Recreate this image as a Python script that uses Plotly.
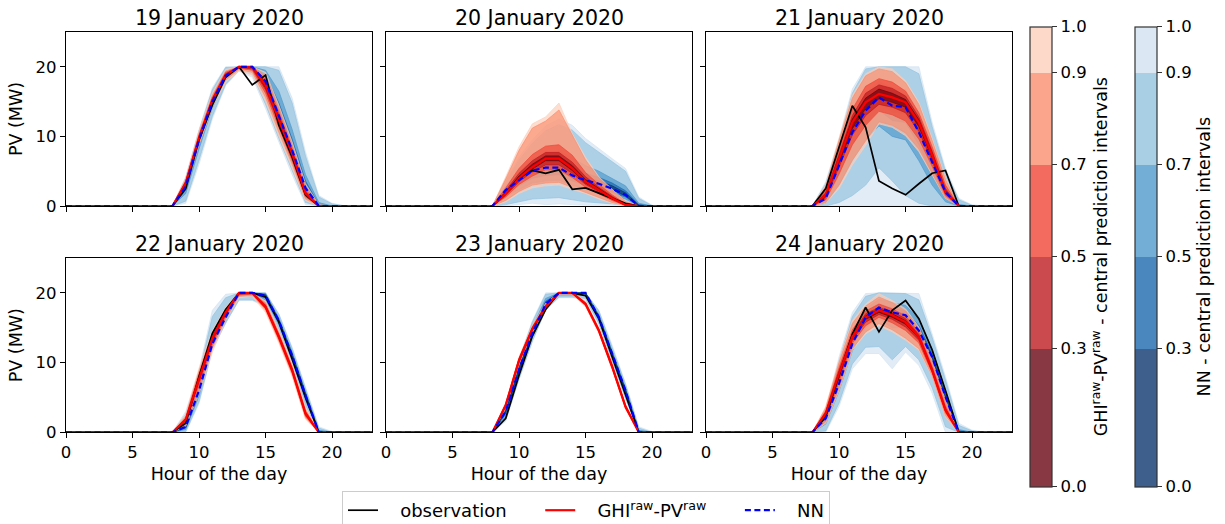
import plotly.graph_objects as go

# ---------------- data ----------------
HOURS = list(range(24))
FIRST_HOUR = 8          # listed values start at 08:00 and run to 20:00
LEVELS = [1.0, 0.8, 0.6, 0.4, 0.2]   # central prediction interval levels (outer -> inner)
TITLES = ["19 January 2020", "20 January 2020", "21 January 2020",
          "22 January 2020", "23 January 2020", "24 January 2020"]
CB_TICKS = [0.0, 0.3, 0.5, 0.7, 0.9, 1.0]
SERIES_NAMES = ["observation", "GHI<sup>raw</sup>-PV<sup>raw</sup>", "NN"]

# ---- 19 January ----
obs_19 = [0, 2.5, 9.5, 14.5, 18.5, 20, 17.4, 18.8, 11.6, 7.0, 1.6, 0, 0]
ghi_19 = [0, 3.3, 9.8, 15.2, 18.8, 20, 20, 17.3, 12.5, 7.5, 1.8, 0, 0]
nn_19 = [0, 2.8, 9.5, 15.0, 18.7, 20, 20, 17.9, 13.0, 8.0, 2.6, 0, 0]
ghi_hi_19 = [[0, 4.0, 10.8, 16.2, 19.6, 20, 20, 19.2, 14.5, 9.2, 3.2, 0.2, 0],
             [0, 3.8, 10.5, 15.9, 19.4, 20, 20, 18.7, 14.0, 8.7, 2.8, 0.1, 0],
             [0, 3.6, 10.2, 15.6, 19.2, 20, 20, 18.2, 13.5, 8.3, 2.4, 0, 0],
             [0, 3.5, 10.0, 15.4, 19.0, 20, 20, 17.8, 13.1, 8.0, 2.1, 0, 0],
             [0, 3.4, 9.9, 15.3, 18.9, 20, 20, 17.5, 12.8, 7.7, 1.9, 0, 0]]
ghi_lo_19 = [[0, 2.4, 8.8, 14.2, 17.8, 19.4, 18.8, 15.0, 10.0, 5.5, 0.8, 0, 0],
             [0, 2.6, 9.0, 14.5, 18.1, 19.6, 19.2, 15.6, 10.6, 6.0, 1.0, 0, 0],
             [0, 2.8, 9.3, 14.7, 18.4, 19.8, 19.5, 16.2, 11.3, 6.5, 1.3, 0, 0],
             [0, 3.0, 9.5, 14.9, 18.6, 19.9, 19.7, 16.7, 11.8, 7.0, 1.5, 0, 0],
             [0, 3.2, 9.7, 15.1, 18.7, 20, 19.9, 17.0, 12.2, 7.3, 1.7, 0, 0]]
nn_hi_19 = [[0, 4.2, 11.0, 17.0, 20, 20, 20, 20, 20, 15.5, 7.8, 1.5, 0.4],
            [0, 4.0, 10.8, 16.7, 19.9, 20, 20, 20, 19.5, 14.8, 7.2, 1.3, 0.3],
            [0, 3.4, 10.1, 15.8, 19.3, 20, 20, 19.5, 16.5, 11.0, 4.5, 0.5, 0],
            [0, 3.1, 9.8, 15.4, 19.0, 20, 20, 18.9, 14.8, 9.6, 3.6, 0.2, 0],
            [0, 2.9, 9.6, 15.2, 18.8, 20, 20, 18.4, 13.8, 8.7, 3.0, 0.1, 0]]
nn_lo_19 = [[0, 0.4, 6.0, 12.5, 17.3, 19.4, 18.5, 14.0, 9.2, 4.5, 0.2, 0, 0],
            [0, 0.7, 6.6, 12.9, 17.5, 19.5, 18.9, 14.6, 9.7, 5.0, 0.5, 0, 0],
            [0, 1.8, 8.2, 14.1, 18.2, 19.8, 19.6, 16.4, 11.3, 6.4, 1.4, 0, 0],
            [0, 2.3, 8.8, 14.6, 18.5, 19.9, 19.8, 17.0, 12.0, 7.1, 1.9, 0, 0],
            [0, 2.6, 9.2, 14.8, 18.6, 20, 19.9, 17.5, 12.6, 7.6, 2.3, 0, 0]]

# ---- 20 January ----
obs_20 = [0, 1.8, 4.1, 5.1, 4.7, 5.2, 2.4, 2.6, 1.8, 1.1, 0.4, 0, 0]
ghi_20 = [0, 1.8, 4.0, 5.6, 6.8, 6.8, 5.4, 3.5, 2.3, 1.1, 0.15, 0, 0]
nn_20 = [0, 2.3, 3.7, 5.1, 5.5, 5.5, 4.4, 3.7, 3.2, 2.5, 1.6, 0, 0]
ghi_hi_20 = [[0, 4.2, 8.5, 11.8, 12.8, 14.8, 10.4, 7.0, 4.2, 2.4, 0.7, 0, 0],
             [0, 3.9, 8.0, 11.2, 12.2, 13.8, 10.1, 6.6, 4.0, 2.3, 0.65, 0, 0],
             [0, 2.6, 5.4, 7.4, 8.6, 8.8, 7.3, 4.8, 3.1, 1.6, 0.35, 0, 0],
             [0, 2.2, 4.7, 6.5, 7.7, 7.7, 6.3, 4.2, 2.7, 1.4, 0.25, 0, 0],
             [0, 2.0, 4.3, 6.0, 7.2, 7.2, 5.8, 3.8, 2.5, 1.25, 0.2, 0, 0]]
ghi_lo_20 = [[0, 0.6, 1.8, 2.6, 2.9, 3.0, 2.4, 1.8, 1.0, 0.4, 0.05, 0, 0],
             [0, 0.8, 2.1, 3.0, 3.3, 3.4, 2.7, 2.0, 1.2, 0.5, 0.07, 0, 0],
             [0, 1.3, 3.1, 4.3, 5.2, 5.2, 4.1, 2.7, 1.8, 0.8, 0.1, 0, 0],
             [0, 1.5, 3.5, 4.9, 5.9, 5.9, 4.7, 3.1, 2.0, 0.95, 0.12, 0, 0],
             [0, 1.7, 3.8, 5.3, 6.5, 6.5, 5.1, 3.3, 2.2, 1.05, 0.14, 0, 0]]
nn_hi_20 = [[0, 3.7, 7.0, 9.5, 11.5, 12.5, 11.6, 9.7, 8.2, 6.8, 5.4, 1.3, 0.1],
            [0, 3.5, 6.6, 9.0, 10.8, 11.7, 10.9, 9.1, 7.7, 6.4, 5.0, 1.1, 0.05],
            [0, 2.9, 4.9, 6.8, 7.6, 7.9, 6.9, 5.8, 5.0, 4.0, 2.9, 0.4, 0],
            [0, 2.6, 4.3, 5.9, 6.6, 6.7, 5.6, 4.7, 4.1, 3.3, 2.2, 0.2, 0],
            [0, 2.45, 4.0, 5.5, 6.0, 6.1, 5.0, 4.2, 3.6, 2.9, 1.9, 0.1, 0]]
nn_lo_20 = [[0, 0, 0.2, 0.4, 0.2, 0.3, 0.2, 0.1, 0, 0, 0, 0, 0],
            [0, 0.2, 0.6, 1.0, 1.1, 1.2, 0.9, 0.6, 0.4, 0.3, 0.1, 0, 0],
            [0, 1.4, 2.3, 3.3, 3.6, 3.7, 3.0, 2.5, 2.1, 1.6, 1.0, 0, 0],
            [0, 1.8, 2.9, 4.0, 4.4, 4.5, 3.6, 3.0, 2.6, 2.0, 1.3, 0, 0],
            [0, 2.05, 3.3, 4.6, 5.0, 5.0, 4.0, 3.4, 2.9, 2.3, 1.45, 0, 0]]

# ---- 21 January ----
obs_21 = [0, 2.5, 8.5, 14.4, 11.3, 3.6, 2.5, 1.6, 3.2, 4.7, 5.1, 0, 0]
ghi_21 = [0, 1.6, 6.8, 12.0, 14.9, 16.1, 15.6, 14.9, 12.0, 7.3, 2.0, 0, 0]
nn_21 = [0, 1.1, 5.9, 10.6, 13.7, 15.6, 14.4, 14.2, 10.6, 6.3, 2.0, 0, 0]
ghi_hi_21 = [[0, 3.0, 9.7, 15.9, 19.0, 20, 19.7, 18.0, 14.9, 9.7, 4.0, 0, 0],
             [0, 2.8, 9.4, 15.5, 18.7, 19.7, 19.3, 17.7, 14.6, 9.4, 3.8, 0, 0],
             [0, 2.2, 8.2, 13.9, 17.2, 18.3, 17.8, 16.5, 13.4, 8.5, 3.0, 0, 0],
             [0, 1.9, 7.6, 13.0, 16.2, 17.4, 16.9, 15.8, 12.8, 7.9, 2.5, 0, 0],
             [0, 1.7, 7.2, 12.5, 15.5, 16.8, 16.2, 15.3, 12.4, 7.6, 2.2, 0, 0]]
ghi_lo_21 = [[0, 0.4, 2.5, 5.9, 8.7, 11.8, 11.3, 10.1, 7.8, 4.4, 1.1, 0, 0],
             [0, 0.5, 3.0, 6.6, 9.3, 12.1, 11.6, 10.5, 8.2, 4.7, 1.2, 0, 0],
             [0, 0.9, 4.6, 8.8, 11.6, 13.6, 13.1, 12.2, 9.6, 5.7, 1.5, 0, 0],
             [0, 1.2, 5.6, 10.2, 13.0, 14.6, 14.2, 13.4, 10.7, 6.4, 1.7, 0, 0],
             [0, 1.4, 6.2, 11.1, 14.0, 15.4, 14.9, 14.2, 11.4, 6.9, 1.9, 0, 0]]
nn_hi_21 = [[0, 3.5, 9.7, 16.8, 20, 20, 20, 20, 20, 12.0, 5.4, 1.1, 0.15],
            [0, 3.2, 9.3, 16.2, 19.7, 20, 20, 20, 19.0, 11.4, 5.0, 0.9, 0.1],
            [0, 2.0, 7.4, 12.8, 16.2, 17.9, 17.0, 16.7, 13.2, 8.2, 3.1, 0.2, 0],
            [0, 1.5, 6.6, 11.6, 14.9, 16.7, 15.6, 15.3, 11.8, 7.2, 2.5, 0.1, 0],
            [0, 1.2, 6.2, 11.0, 14.2, 16.1, 14.9, 14.7, 11.1, 6.7, 2.2, 0, 0]]
nn_lo_21 = [[0, 0, 0, 0, 0, 0, 0, 0, 0, 0, 0, 0, 0],
            [0, 0, 0.5, 1.5, 3.0, 5.5, 3.6, 1.5, 0.4, 0, 0, 0, 0],
            [0, 0.4, 3.0, 6.5, 9.5, 11.5, 10.0, 9.5, 6.5, 3.0, 0.6, 0, 0],
            [0, 0.7, 4.5, 8.8, 11.8, 13.8, 12.3, 12.0, 8.8, 4.7, 1.3, 0, 0],
            [0, 0.9, 5.3, 9.8, 12.9, 14.8, 13.5, 13.2, 9.8, 5.6, 1.7, 0, 0]]

# ---- 22 January ----
obs_22 = [0, 1.3, 8.0, 14.2, 17.6, 20, 20, 19.4, 15.8, 10.5, 5.0, 0, 0]
ghi_22 = [0, 1.8, 7.8, 13.5, 17.2, 20, 20, 18.0, 13.7, 8.9, 2.7, 0, 0]
nn_22 = [0, 0.8, 6.0, 12.7, 16.5, 20, 20, 19.6, 16.0, 11.0, 5.3, 0, 0]
ghi_hi_22 = [[0, 2.6, 9.2, 14.6, 17.9, 20, 20, 18.8, 14.6, 9.8, 3.6, 0.1, 0],
             [0, 2.3, 8.8, 14.3, 17.7, 20, 20, 18.6, 14.3, 9.5, 3.3, 0, 0],
             [0, 2.1, 8.4, 14.0, 17.5, 20, 20, 18.4, 14.1, 9.3, 3.1, 0, 0],
             [0, 2.0, 8.1, 13.8, 17.4, 20, 20, 18.2, 13.9, 9.1, 2.9, 0, 0],
             [0, 1.9, 7.9, 13.6, 17.3, 20, 20, 18.1, 13.8, 9.0, 2.8, 0, 0]]
ghi_lo_22 = [[0, 0.9, 5.5, 11.5, 16.0, 19.3, 19.5, 17.2, 12.8, 8.0, 1.9, 0, 0],
             [0, 1.1, 6.2, 12.1, 16.4, 19.5, 19.7, 17.5, 13.1, 8.3, 2.1, 0, 0],
             [0, 1.3, 6.8, 12.6, 16.7, 19.7, 19.8, 17.7, 13.3, 8.5, 2.3, 0, 0],
             [0, 1.5, 7.2, 13.0, 16.9, 19.8, 19.9, 17.8, 13.5, 8.7, 2.5, 0, 0],
             [0, 1.7, 7.5, 13.3, 17.1, 19.9, 20, 17.9, 13.6, 8.8, 2.6, 0, 0]]
nn_hi_22 = [[0, 3.0, 8.9, 17.5, 19.8, 20, 20, 20, 17.0, 12.2, 6.5, 0.8, 0.1],
            [0, 2.6, 8.4, 16.6, 19.3, 20, 20, 20, 16.9, 12.0, 6.3, 0.6, 0],
            [0, 1.6, 7.1, 14.2, 17.6, 20, 20, 19.9, 16.4, 11.5, 5.8, 0.3, 0],
            [0, 1.2, 6.6, 13.4, 17.0, 20, 20, 19.8, 16.2, 11.3, 5.6, 0.1, 0],
            [0, 1.0, 6.2, 13.0, 16.7, 20, 20, 19.7, 16.1, 11.1, 5.4, 0, 0]]
nn_lo_22 = [[0, 0, 4.1, 11.8, 15.6, 18.9, 18.9, 18.0, 14.6, 9.9, 3.7, 0, 0],
            [0, 0.1, 4.4, 11.9, 15.7, 19.0, 19.0, 18.3, 14.8, 10.0, 3.9, 0, 0],
            [0, 0.4, 5.2, 12.2, 16.0, 19.5, 19.5, 19.0, 15.4, 10.5, 4.6, 0, 0],
            [0, 0.6, 5.6, 12.4, 16.2, 19.7, 19.7, 19.3, 15.7, 10.7, 4.9, 0, 0],
            [0, 0.7, 5.8, 12.6, 16.4, 19.9, 19.9, 19.5, 15.9, 10.9, 5.1, 0, 0]]

# ---- 23 January ----
obs_23 = [0, 2.0, 8.2, 13.8, 17.6, 20, 20, 19.6, 16.3, 10.8, 5.5, 0, 0]
ghi_23 = [0, 3.9, 10.3, 14.8, 18.0, 20, 20, 18.4, 14.6, 9.4, 3.7, 0, 0]
nn_23 = [0, 3.0, 9.0, 14.2, 18.4, 20, 20, 20, 16.5, 11.3, 6.0, 0, 0]
ghi_hi_23 = [[0, 4.3, 10.8, 15.3, 18.5, 20, 20, 18.8, 15.0, 9.9, 4.1, 0, 0],
             [0, 4.2, 10.7, 15.2, 18.4, 20, 20, 18.7, 14.9, 9.8, 4.0, 0, 0],
             [0, 4.1, 10.6, 15.1, 18.3, 20, 20, 18.6, 14.8, 9.7, 3.9, 0, 0],
             [0, 4.0, 10.5, 15.0, 18.2, 20, 20, 18.5, 14.7, 9.6, 3.8, 0, 0],
             [0, 3.95, 10.4, 14.9, 18.1, 20, 20, 18.45, 14.65, 9.5, 3.75, 0, 0]]
ghi_lo_23 = [[0, 3.5, 9.8, 14.3, 17.6, 19.8, 19.8, 18.0, 14.2, 9.0, 3.3, 0, 0],
             [0, 3.6, 9.9, 14.4, 17.7, 19.85, 19.85, 18.1, 14.3, 9.1, 3.4, 0, 0],
             [0, 3.7, 10.0, 14.5, 17.8, 19.9, 19.9, 18.2, 14.4, 9.2, 3.5, 0, 0],
             [0, 3.8, 10.1, 14.6, 17.9, 19.95, 19.95, 18.3, 14.5, 9.3, 3.6, 0, 0],
             [0, 3.85, 10.2, 14.7, 17.95, 20, 20, 18.35, 14.55, 9.35, 3.65, 0, 0]]
nn_hi_23 = [[0, 3.8, 10.5, 16.0, 20, 20, 20, 20, 17.5, 12.5, 7.0, 0.8, 0.1],
            [0, 3.7, 10.3, 15.8, 19.8, 20, 20, 20, 17.4, 12.3, 6.9, 0.6, 0],
            [0, 3.4, 9.7, 15.0, 19.2, 20, 20, 20, 16.9, 11.8, 6.4, 0.3, 0],
            [0, 3.2, 9.4, 14.6, 18.8, 20, 20, 20, 16.7, 11.6, 6.2, 0.1, 0],
            [0, 3.1, 9.2, 14.4, 18.6, 20, 20, 20, 16.6, 11.4, 6.1, 0, 0]]
nn_lo_23 = [[0, 1.6, 7.5, 13.0, 17.5, 19.3, 19.3, 19.0, 15.5, 10.3, 4.8, 0, 0],
            [0, 1.8, 7.7, 13.1, 17.6, 19.4, 19.4, 19.2, 15.6, 10.4, 4.9, 0, 0],
            [0, 2.4, 8.3, 13.6, 17.9, 19.7, 19.7, 19.6, 16.0, 10.9, 5.4, 0, 0],
            [0, 2.7, 8.6, 13.9, 18.1, 19.85, 19.85, 19.8, 16.2, 11.1, 5.7, 0, 0],
            [0, 2.9, 8.8, 14.0, 18.3, 19.95, 19.95, 19.9, 16.4, 11.2, 5.9, 0, 0]]

# ---- 24 January ----
obs_24 = [0, 2.2, 8.0, 14.1, 17.9, 14.4, 17.5, 18.9, 16.3, 11.8, 6.0, 0, 0]
ghi_24 = [0, 2.7, 8.4, 13.7, 16.5, 17.5, 16.8, 15.8, 13.7, 8.9, 3.2, 0, 0]
nn_24 = [0, 2.0, 7.0, 12.7, 16.5, 17.9, 17.2, 16.8, 14.6, 10.8, 5.1, 0, 0]
ghi_hi_24 = [[0, 3.7, 10.3, 16.0, 18.4, 19.9, 18.9, 17.7, 15.1, 10.3, 4.6, 0, 0],
             [0, 3.5, 10.0, 15.6, 18.1, 19.4, 18.6, 17.4, 14.9, 10.1, 4.4, 0, 0],
             [0, 3.1, 9.3, 14.7, 17.4, 18.4, 17.7, 16.7, 14.3, 9.5, 3.8, 0, 0],
             [0, 2.9, 8.9, 14.2, 17.0, 17.9, 17.3, 16.3, 14.0, 9.2, 3.5, 0, 0],
             [0, 2.8, 8.6, 13.9, 16.7, 17.7, 17.0, 16.0, 13.8, 9.0, 3.3, 0, 0]]
ghi_lo_24 = [[0, 1.3, 6.0, 11.8, 14.1, 15.3, 14.4, 13.2, 11.8, 8.0, 2.2, 0, 0],
             [0, 1.5, 6.3, 12.0, 14.4, 15.6, 14.7, 13.5, 12.0, 8.1, 2.4, 0, 0],
             [0, 2.0, 7.2, 12.8, 15.3, 16.5, 15.7, 14.6, 12.8, 8.5, 2.8, 0, 0],
             [0, 2.3, 7.7, 13.2, 15.8, 16.9, 16.2, 15.1, 13.2, 8.7, 3.0, 0, 0],
             [0, 2.5, 8.1, 13.5, 16.2, 17.2, 16.5, 15.5, 13.5, 8.8, 3.1, 0, 0]]
nn_hi_24 = [[0, 3.2, 10.8, 17.2, 19.9, 20, 20, 20, 19.9, 14.1, 8.0, 1.3, 0.3],
            [0, 3.0, 10.2, 16.6, 19.5, 20, 20, 19.9, 19.0, 13.6, 7.5, 1.0, 0.2],
            [0, 2.5, 8.2, 14.2, 17.7, 19.1, 18.6, 18.2, 16.2, 12.0, 6.0, 0.4, 0],
            [0, 2.2, 7.6, 13.4, 17.0, 18.4, 17.8, 17.4, 15.3, 11.3, 5.5, 0.2, 0],
            [0, 2.1, 7.2, 12.9, 16.7, 18.1, 17.4, 17.0, 14.8, 11.0, 5.2, 0, 0]]
nn_lo_24 = [[0, 0, 3.7, 9.1, 11.3, 11.3, 9.1, 11.5, 9.6, 5.6, 0, 0, 0],
            [0, 0.2, 4.2, 9.8, 12.2, 12.3, 10.4, 12.3, 10.4, 6.4, 0.8, 0, 0],
            [0, 1.2, 5.9, 11.7, 15.0, 16.3, 15.0, 15.0, 13.0, 9.0, 3.4, 0, 0],
            [0, 1.6, 6.5, 12.2, 15.8, 17.3, 16.3, 16.1, 14.0, 10.0, 4.3, 0, 0],
            [0, 1.8, 6.8, 12.5, 16.2, 17.7, 16.8, 16.5, 14.4, 10.5, 4.8, 0, 0]]

# ---------------- styling ----------------
FONT = "DejaVu Sans"
W, H = 1225, 524
ALPHA = 0.78          # alpha of the colour-bar swatches
BAND_ALPHA = 0.65     # alpha of the prediction-interval fills
# opaque base colours of the discrete colour maps, one per bin of CB_TICKS
REDS = [(103, 0, 13), (188, 23, 28), (240, 65, 49), (250, 140, 108), (252, 206, 186)]
BLUES = [(8, 48, 107), (23, 101, 173), (76, 151, 203), (145, 194, 221), (209, 226, 241)]
NBSP = "\u00a0"


def rgba(c, a):
    return "rgba(%d,%d,%d,%.3f)" % (c[0], c[1], c[2], a)


def blend(c, a):
    return "rgb(%d,%d,%d)" % tuple(round(v * a + 255 * (1 - a)) for v in c)


def bin_index(level):
    for i in range(len(CB_TICKS) - 1):
        if level < CB_TICKS[i + 1]:
            return i
    return len(CB_TICKS) - 2


def full(v):
    return [0.0] * FIRST_HOUR + list(v) + [0.0] * (24 - FIRST_HOUR - len(v))


def colorscale(cols):
    cs = []
    for i, c in enumerate(cols):
        cs.append([CB_TICKS[i], blend(c, ALPHA)])
        cs.append([CB_TICKS[i + 1], blend(c, ALPHA)])
    return cs


# legend labels padded so the entries are spread like the reference legend
legend_labels = [NBSP * 3 + SERIES_NAMES[0] + NBSP * 5,
                 NBSP * 3 + SERIES_NAMES[1] + NBSP * 5,
                 NBSP * 3 + SERIES_NAMES[2]]

panels = [
    (obs_19, ghi_19, nn_19, ghi_lo_19, ghi_hi_19, nn_lo_19, nn_hi_19),
    (obs_20, ghi_20, nn_20, ghi_lo_20, ghi_hi_20, nn_lo_20, nn_hi_20),
    (obs_21, ghi_21, nn_21, ghi_lo_21, ghi_hi_21, nn_lo_21, nn_hi_21),
    (obs_22, ghi_22, nn_22, ghi_lo_22, ghi_hi_22, nn_lo_22, nn_hi_22),
    (obs_23, ghi_23, nn_23, ghi_lo_23, ghi_hi_23, nn_lo_23, nn_hi_23),
    (obs_24, ghi_24, nn_24, ghi_lo_24, ghi_hi_24, nn_lo_24, nn_hi_24),
]

# pixel layout of the panels
COL_X = [(66, 372), (386, 692), (706, 1012)]
ROW_Y = [(32, 206), (258, 432.3)]

fig = go.Figure()
layout = {}

for k, (obs, ghi, nn, glo, ghi_hi, nlo, nhi) in enumerate(panels):
    r, c = divmod(k, 3)
    ax = "" if k == 0 else str(k + 1)
    xa, ya = "x" + ax, "y" + ax

    def band(lo, hi, col):
        fig.add_trace(go.Scatter(
            x=HOURS + HOURS[::-1], y=full(hi) + full(lo)[::-1],
            xaxis=xa, yaxis=ya, mode="lines", fill="toself",
            fillcolor=rgba(col, BAND_ALPHA), line=dict(color=rgba(col, BAND_ALPHA), width=1.0),
            hoverinfo="skip", showlegend=False))

    for li, lev in enumerate(LEVELS):
        band(nlo[li], nhi[li], BLUES[bin_index(lev)])
    for li, lev in enumerate(LEVELS):
        band(glo[li], ghi_hi[li], REDS[bin_index(lev)])

    fig.add_trace(go.Scatter(x=HOURS, y=full(obs), xaxis=xa, yaxis=ya, mode="lines",
                             line=dict(color="black", width=1.7), name=legend_labels[0],
                             showlegend=(k == 0)))
    fig.add_trace(go.Scatter(x=HOURS, y=full(ghi), xaxis=xa, yaxis=ya, mode="lines",
                             line=dict(color="#ff0000", width=2.2),
                             name=legend_labels[1], showlegend=(k == 0)))
    fig.add_trace(go.Scatter(x=HOURS, y=full(nn), xaxis=xa, yaxis=ya, mode="lines",
                             line=dict(color="#0000ff", width=2.2, dash="6px,3.5px"),
                             name=legend_labels[2], showlegend=(k == 0)))

    x0, x1 = COL_X[c]
    y0, y1 = ROW_Y[r]
    common = dict(showline=True, mirror=True, linecolor="black", linewidth=1.2,
                  ticks="outside", ticklen=5, tickwidth=1.2, tickcolor="black",
                  showgrid=False, zeroline=False,
                  tickfont=dict(family=FONT, size=16.5, color="black"))
    xdef = dict(domain=[x0 / W, x1 / W], anchor=ya, range=[0, 23],
                tickvals=[0, 5, 10, 15, 20], showticklabels=(r == 1), **common)
    if r == 1:
        xdef["title"] = dict(text="Hour of the day", standoff=6,
                             font=dict(family=FONT, size=17.5, color="black"))
    ydef = dict(domain=[1 - y1 / H, 1 - y0 / H], anchor=xa, range=[0, 25],
                tickvals=[0, 10, 20], showticklabels=(c == 0), **common)
    if c == 0:
        ydef["title"] = dict(text="PV (MW)", standoff=8,
                             font=dict(family=FONT, size=17.5, color="black"))
    layout["xaxis" + ax] = xdef
    layout["yaxis" + ax] = ydef
    fig.add_annotation(text=TITLES[k], xref="paper", yref="paper",
                       x=(x0 + x1) / 2 / W, y=1 - (y0 - 14) / H,
                       xanchor="center", yanchor="middle", showarrow=False,
                       font=dict(family=FONT, size=20.5, color="black"))


# colour bars (dummy traces outside the visible range)
def cbar_trace(cols, title, left_px):
    return go.Scatter(
        x=[-10], y=[-10], xaxis="x", yaxis="y", mode="markers", showlegend=False,
        hoverinfo="skip",
        marker=dict(color=[0.5], cmin=0, cmax=1, colorscale=colorscale(cols), size=1,
                    showscale=True,
                    colorbar=dict(
                        x=left_px / W, xanchor="left", xpad=0, ypad=0,
                        y=1 - 256.7 / H, yanchor="middle",
                        len=460, lenmode="pixels", thickness=22, thicknessmode="pixels",
                        outlinewidth=1.2, outlinecolor="#333333",
                        tickvals=CB_TICKS, ticktext=["%.1f" % t for t in CB_TICKS],
                        ticks="outside", ticklen=5, tickwidth=1.2, tickcolor="#333333",
                        tickfont=dict(family=FONT, size=16.5, color="black"),
                        title=dict(text=title, side="right",
                                   font=dict(family=FONT, size=17.5, color="black")))))


fig.add_trace(cbar_trace(REDS, "GHI<sup>raw</sup>-PV<sup>raw</sup> - central prediction intervals", 1030))
fig.add_trace(cbar_trace(BLUES, "NN - central prediction intervals", 1135))

fig.update_layout(
    **layout,
    width=W, height=H,
    margin=dict(l=0, r=0, t=0, b=0, autoexpand=False),
    paper_bgcolor="white", plot_bgcolor="white",
    font=dict(family=FONT, color="black"),
    legend=dict(orientation="h", x=342 / W, xanchor="left", y=1 - 491 / H, yanchor="top",
                bordercolor="#cccccc", borderwidth=1, bgcolor="white",
                font=dict(family=FONT, size=18, color="black"),
                traceorder="normal"),
)

fig.write_html("out.html", config={"displayModeBar": False},
               post_script="document.body.style.margin='0px';")
